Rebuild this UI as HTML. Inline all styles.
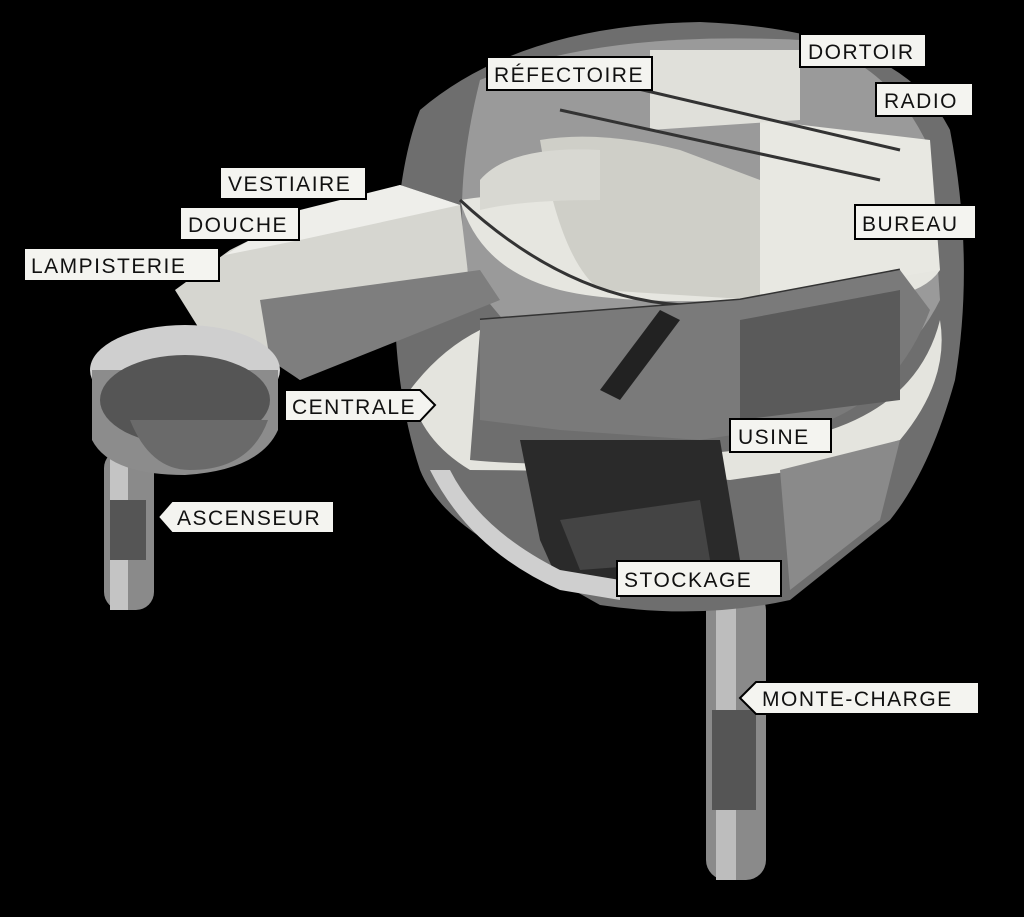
<!DOCTYPE html>
<html><head><meta charset="utf-8"><style>
html,body{margin:0;padding:0;background:#000;}
svg{display:block}
text{font-family:"Liberation Sans",sans-serif;font-size:21px;letter-spacing:1.5px;fill:#111}
</style></head><body>
<svg width="1024" height="917" viewBox="0 0 1024 917">
<rect width="1024" height="917" fill="#000"/>
<rect x="706" y="590" width="60" height="290" rx="20" fill="#8a8a8a"/>
<rect x="716" y="590" width="20" height="290" fill="#bdbdbd"/>
<rect x="712" y="710" width="44" height="100" fill="#555"/>
<rect x="104" y="450" width="50" height="160" rx="18" fill="#8a8a8a"/>
<rect x="110" y="450" width="18" height="160" fill="#c4c4c4"/>
<rect x="110" y="500" width="36" height="60" fill="#555"/>
<path d="M420,110 Q520,25 700,22 Q900,30 950,130 Q975,260 955,380 Q930,470 890,520 L790,600 Q700,620 600,605 L520,560 Q440,520 420,470 Q390,380 395,250 Q400,160 420,110Z" fill="#6e6e6e"/>
<path d="M480,80 Q600,30 800,40 Q890,60 930,150 L940,300 Q900,380 800,410 L700,420 Q600,410 560,380 L520,340 L470,280 Q450,200 480,80Z" fill="#9a9a9a"/>
<path d="M460,200 Q520,190 600,200 L760,180 L940,270 Q920,300 850,300 L760,300 Q620,305 560,290 Q480,270 460,200Z" fill="#e6e6e0"/>
<path d="M540,140 Q600,130 680,150 L760,180 L760,300 L600,290 Q560,260 540,140Z" fill="#cfcfc8"/>
<path d="M760,120 L930,140 L940,270 L760,300Z" fill="#e8e8e2"/>
<path d="M650,50 L800,50 L800,120 L650,130Z" fill="#e0e0da"/>
<path d="M480,180 Q510,145 600,150 L600,200 Q520,200 480,210Z" fill="#d8d8d2"/>
<g stroke="#333" stroke-width="3" fill="none">
<path d="M600,80 L900,150"/><path d="M560,110 L880,180"/>
<path d="M460,200 Q600,330 760,300"/>
<path d="M480,320 L740,300 L900,270"/>
</g>
<path d="M410,390 Q440,350 480,330 L470,460 Q560,470 740,450 L830,430 Q920,400 940,320 Q950,380 900,440 L800,470 L730,480 Q600,470 470,470 Q420,440 410,390Z" fill="#e4e4de"/>
<path d="M480,320 L740,300 L900,270 L930,310 Q900,390 830,420 L700,440 L560,430 L480,420Z" fill="#7a7a7a"/>
<path d="M740,320 L900,290 L900,400 L740,420Z" fill="#5a5a5a"/>
<path d="M600,390 L660,310 L680,320 L620,400Z" fill="#222"/>
<path d="M520,440 L720,440 L740,560 L700,590 L560,585 L540,540Z" fill="#2a2a2a"/>
<path d="M560,520 L700,500 L710,560 L580,570Z" fill="#444"/>
<path d="M430,470 Q470,550 560,590 L620,600 L620,580 L560,570 Q480,530 450,470Z" fill="#cfcfcf"/>
<path d="M780,470 L900,440 L880,520 L790,590Z" fill="#8a8a8a"/>
<path d="M175,290 L230,250 L300,215 L400,185 L460,205 L470,290 L300,380 L260,350 L200,330Z" fill="#d6d6d0"/>
<path d="M260,300 L480,270 L500,300 L300,380 L270,360Z" fill="#7e7e7e"/>
<path d="M225,255 L300,210 L400,185 L460,205 L300,240Z" fill="#eeeeea"/>
<ellipse cx="185" cy="370" rx="95" ry="45" fill="#cfcfcf"/>
<path d="M92,370 L92,440 Q110,475 185,475 Q260,470 278,430 L278,370Z" fill="#8c8c8c"/>
<ellipse cx="185" cy="400" rx="85" ry="45" fill="#555"/>
<path d="M130,420 Q150,470 190,470 Q250,470 268,420Z" fill="#6a6a6a"/>
<g stroke="#000" stroke-width="2" fill="#f4f4f0">
<rect x="487" y="57" width="165" height="33"/>
<rect x="800" y="34" width="126" height="33"/>
<rect x="876" y="83" width="97" height="33"/>
<rect x="220" y="167" width="146" height="32"/>
<rect x="180" y="207" width="119" height="33"/>
<rect x="24" y="248" width="195" height="33"/>
<rect x="855" y="205" width="121" height="34"/>
<path d="M285,390 L420,390 L435,405 L420,421 L285,421Z"/>
<path d="M158,517 L172,501 L334,501 L334,533 L172,533Z"/>
<rect x="730" y="419" width="101" height="33"/>
<rect x="617" y="561" width="164" height="35"/>
<path d="M740,698 L756,682 L979,682 L979,714 L756,714Z"/>
</g>
<text x="494" y="82">RÉFECTOIRE</text>
<text x="808" y="59">DORTOIR</text>
<text x="884" y="108">RADIO</text>
<text x="228" y="191">VESTIAIRE</text>
<text x="188" y="232">DOUCHE</text>
<text x="31" y="273">LAMPISTERIE</text>
<text x="862" y="231">BUREAU</text>
<text x="292" y="414">CENTRALE</text>
<text x="177" y="525">ASCENSEUR</text>
<text x="738" y="444">USINE</text>
<text x="624" y="587">STOCKAGE</text>
<text x="762" y="706">MONTE-CHARGE</text>
</svg>
</body></html>
